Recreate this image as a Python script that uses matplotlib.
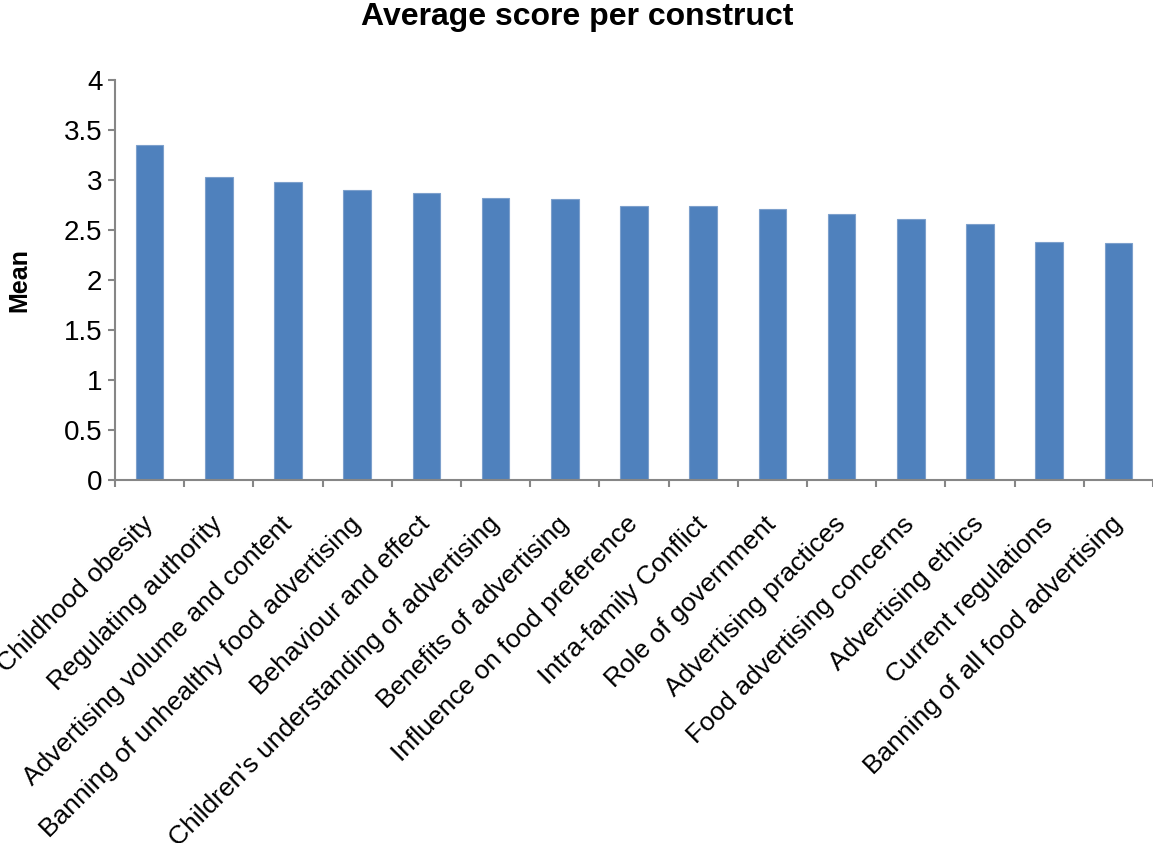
import matplotlib
matplotlib.use("Agg")
import matplotlib.pyplot as plt
import numpy as np

plt.rcParams['font.family'] = ['Liberation Sans', 'DejaVu Sans']

categories = [
    "Childhood obesity",
    "Regulating authority",
    "Advertising volume and content",
    "Banning of unhealthy food advertising",
    "Behaviour and effect",
    "Children's understanding of advertising",
    "Benefits of advertising",
    "Influence on food preference",
    "Intra-family Conflict",
    "Role of government",
    "Advertising practices",
    "Food advertising concerns",
    "Advertising ethics",
    "Current regulations",
    "Banning of all food advertising",
]
means = [3.35, 3.03, 2.98, 2.90, 2.87, 2.82, 2.81, 2.74, 2.74, 2.71, 2.66, 2.61, 2.56, 2.38, 2.37]
y_ticks = [0, 0.5, 1, 1.5, 2, 2.5, 3, 3.5, 4]
y_tick_labels = ["0", "0.5", "1", "1.5", "2", "2.5", "3", "3.5", "4"]

W, H = 1153, 843
fig = plt.figure(figsize=(W / 100, H / 100), dpi=100)
ax = fig.add_axes([115 / W, 1 - 480 / H, (1153 - 115) / W, 400 / H])

x = np.arange(len(categories))
ax.bar(x, means, width=0.4, color="#4F81BD", edgecolor="#7DA0CC", linewidth=0.8, zorder=2)

ax.set_xlim(-0.5, len(categories) - 0.5)
ax.set_ylim(0, 4)

spine_color = "#868686"
for side in ("top", "right"):
    ax.spines[side].set_visible(False)
for side in ("left", "bottom"):
    ax.spines[side].set_color(spine_color)
    ax.spines[side].set_linewidth(1.5)
    ax.spines[side].set_clip_on(False)

ax.set_yticks(y_ticks)
ax.set_yticklabels(y_tick_labels, fontsize=20)
ax.tick_params(axis="y", direction="out", length=5, width=1.5, color=spine_color, pad=4)

# category labels at bar centers, tick marks at category boundaries
ax.set_xticks(x)
ax.set_xticklabels(categories, rotation=45, ha="right", va="center",
                   rotation_mode="anchor", fontsize=19)
ax.tick_params(axis="x", which="major", length=0, pad=29)
ax.set_xticks(np.arange(len(categories) + 1) - 0.5, minor=True)
ax.tick_params(axis="x", which="minor", direction="out", length=5, width=1.5, color=spine_color)
for t in ax.xaxis.get_minorticklines():
    t.set_clip_on(False)

ax.set_ylabel("Mean", fontsize=18, fontweight="bold")
ax.yaxis.set_label_coords(-(115 - 31) / (1153 - 115), 0.5)
fig.text(577 / W, 1 - 17 / H, "Average score per construct", ha="center", va="center",
         fontsize=23, fontweight="bold")

fig.savefig("out.png", dpi=100, facecolor="white")
